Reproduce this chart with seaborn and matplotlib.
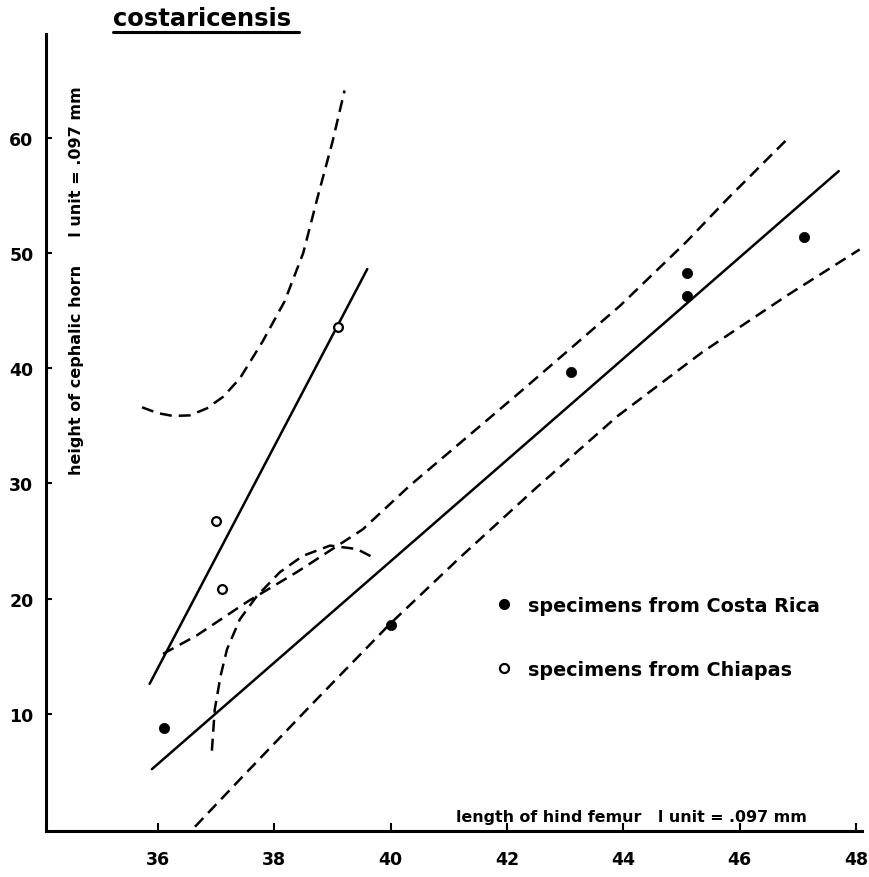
import matplotlib
matplotlib.use("Agg")
import matplotlib.pyplot as plt
from matplotlib.lines import Line2D
import seaborn as sns

# ---------------- data ----------------
cr_x = [36.1, 40.0, 43.1, 45.1, 45.1, 47.1]          # specimens from Costa Rica
cr_y = [8.8, 17.7, 39.7, 48.3, 46.3, 51.4]
ch_x = [37.0, 37.1, 39.1]                            # specimens from Chiapas
ch_y = [26.7, 20.8, 43.6]

cr_line_x = [35.9, 47.7]                             # Costa Rica regression line
cr_line_y = [5.2, 57.1]
ch_line_x = [35.86, 39.6]                            # Chiapas regression line
ch_line_y = [12.6, 48.6]

cr_upper_x = [36.09, 36.67, 37.53, 38.39, 39.52, 40.33, 42.22, 43.94, 45.09, 45.79, 46.86]
cr_upper_y = [15.2, 16.8, 19.7, 22.3, 26.0, 29.8, 37.9, 45.4, 51.0, 54.7, 60.1]
cr_lower_x = [36.64, 37.41, 38.70, 39.99, 41.20, 42.50, 43.89, 45.36, 46.81, 48.06]
cr_lower_y = [0.2, 4.3, 11.1, 17.8, 23.6, 29.6, 35.8, 41.4, 46.3, 50.3]

ch_upper_x = [35.73, 36.00, 36.26, 36.55, 36.84, 37.12, 37.41, 37.80, 38.18, 38.50, 38.75, 39.00, 39.21]
ch_upper_y = [36.6, 36.1, 35.85, 35.9, 36.5, 37.5, 39.1, 42.3, 45.8, 50.0, 54.9, 59.6, 64.1]
ch_lower_x = [36.93, 36.98, 37.08, 37.19, 37.41, 37.70, 38.10, 38.49, 38.96, 39.42, 39.69]
ch_lower_y = [6.8, 10.4, 13.3, 15.6, 18.2, 20.2, 22.3, 23.7, 24.6, 24.3, 23.6]

x_ticks = [36, 38, 40, 42, 44, 46, 48]
y_ticks = [10, 20, 30, 40, 50, 60]

title = "costaricensis"
x_label = "length of hind femur   l unit = .097 mm"
y_label = "height of cephalic horn     l unit = .097 mm"
legend_labels = ["specimens from Costa Rica", "specimens from Chiapas"]

# ---------------- style ----------------
sns.set_theme(style="white")
plt.rcParams["font.family"] = ["DejaVu Sans"]
plt.rcParams["font.weight"] = "bold"
plt.rcParams["text.color"] = "black"
plt.rcParams["axes.labelcolor"] = "black"
plt.rcParams["xtick.color"] = "black"
plt.rcParams["ytick.color"] = "black"

W, H = 869, 878
fig = plt.figure(figsize=(W / 100, H / 100), dpi=100)
ax = fig.add_axes([46 / W, (H - 832) / H, (862 - 46) / W, (832 - 35) / H])

line_kw = dict(color="black", linewidth=1.8, estimator=None, sort=False, legend=False)

# regression lines
sns.lineplot(x=cr_line_x, y=cr_line_y, ax=ax, **line_kw)
sns.lineplot(x=ch_line_x, y=ch_line_y, ax=ax, **line_kw)

# confidence curves (dashed)
for xs, ys in [(cr_upper_x, cr_upper_y), (cr_lower_x, cr_lower_y),
               (ch_upper_x, ch_upper_y), (ch_lower_x, ch_lower_y)]:
    sns.lineplot(x=xs, y=ys, ax=ax, **line_kw)
for line in ax.lines[2:]:
    line.set_dashes((4.8, 2.8))
    line.set_solid_joinstyle("round")

# specimens
sns.scatterplot(x=cr_x, y=cr_y, ax=ax, color="black", s=55, marker="o",
                edgecolor="black", linewidth=0.5, zorder=5)
sns.scatterplot(x=ch_x, y=ch_y, ax=ax, facecolor="white", s=40, marker="o",
                edgecolor="black", linewidth=1.6, zorder=5)

ax.set_xlim(34.08, 48.1)
ax.set_ylim(-0.17, 69.0)
ax.set_xticks(x_ticks)
ax.set_yticks(y_ticks)
ax.set_xticklabels([str(t) for t in x_ticks], fontsize=12.5, fontweight="bold")
ax.set_yticklabels([str(t) for t in y_ticks], fontsize=12.5, fontweight="bold")
ax.tick_params(axis="x", direction="in", length=6, width=1.5, pad=14, colors="black")
ax.tick_params(axis="y", direction="in", length=4, width=1.5, pad=9, colors="black")
ax.tick_params(bottom=True, left=True)

for s in ["top", "right"]:
    ax.spines[s].set_visible(False)
for s in ["left", "bottom"]:
    ax.spines[s].set_color("black")
    ax.spines[s].set_linewidth(2.2)
ax.set_xlabel("")
ax.set_ylabel("")
ax.grid(False)

# axis titles (inside the plot area, as in the original)
fig.text(631 / W, 1 - 818 / H, x_label, ha="center", va="center",
         fontsize=11.4, fontweight="bold", color="black")
fig.text(77 / W, 1 - 281 / H, y_label, ha="center", va="center",
         rotation=90, fontsize=11.5, fontweight="bold", color="black")

# title with underline
fig.text(113 / W, 1 - 19 / H, title, ha="left", va="center",
         fontsize=17.5, fontweight="bold", color="black")
fig.add_artist(Line2D([113 / W, 299 / W], [1 - 33 / H, 1 - 33 / H],
                      color="black", linewidth=2.2))

# legend
handles = [
    Line2D([], [], linestyle="none", marker="o", markersize=7,
           markerfacecolor="black", markeredgecolor="black"),
    Line2D([], [], linestyle="none", marker="o", markersize=6.5,
           markerfacecolor="white", markeredgecolor="black", markeredgewidth=1.6),
]
leg = ax.legend(handles, legend_labels, loc="upper left",
                bbox_to_anchor=(494 / W, 1 - 597 / H), bbox_transform=fig.transFigure,
                frameon=False, handlelength=1.0, handletextpad=0.75, borderpad=0,
                borderaxespad=0, labelspacing=2.35, prop=dict(size=13.8, weight="bold"))
for t in leg.get_texts():
    t.set_color("black")

fig.savefig("out.png", dpi=100)
